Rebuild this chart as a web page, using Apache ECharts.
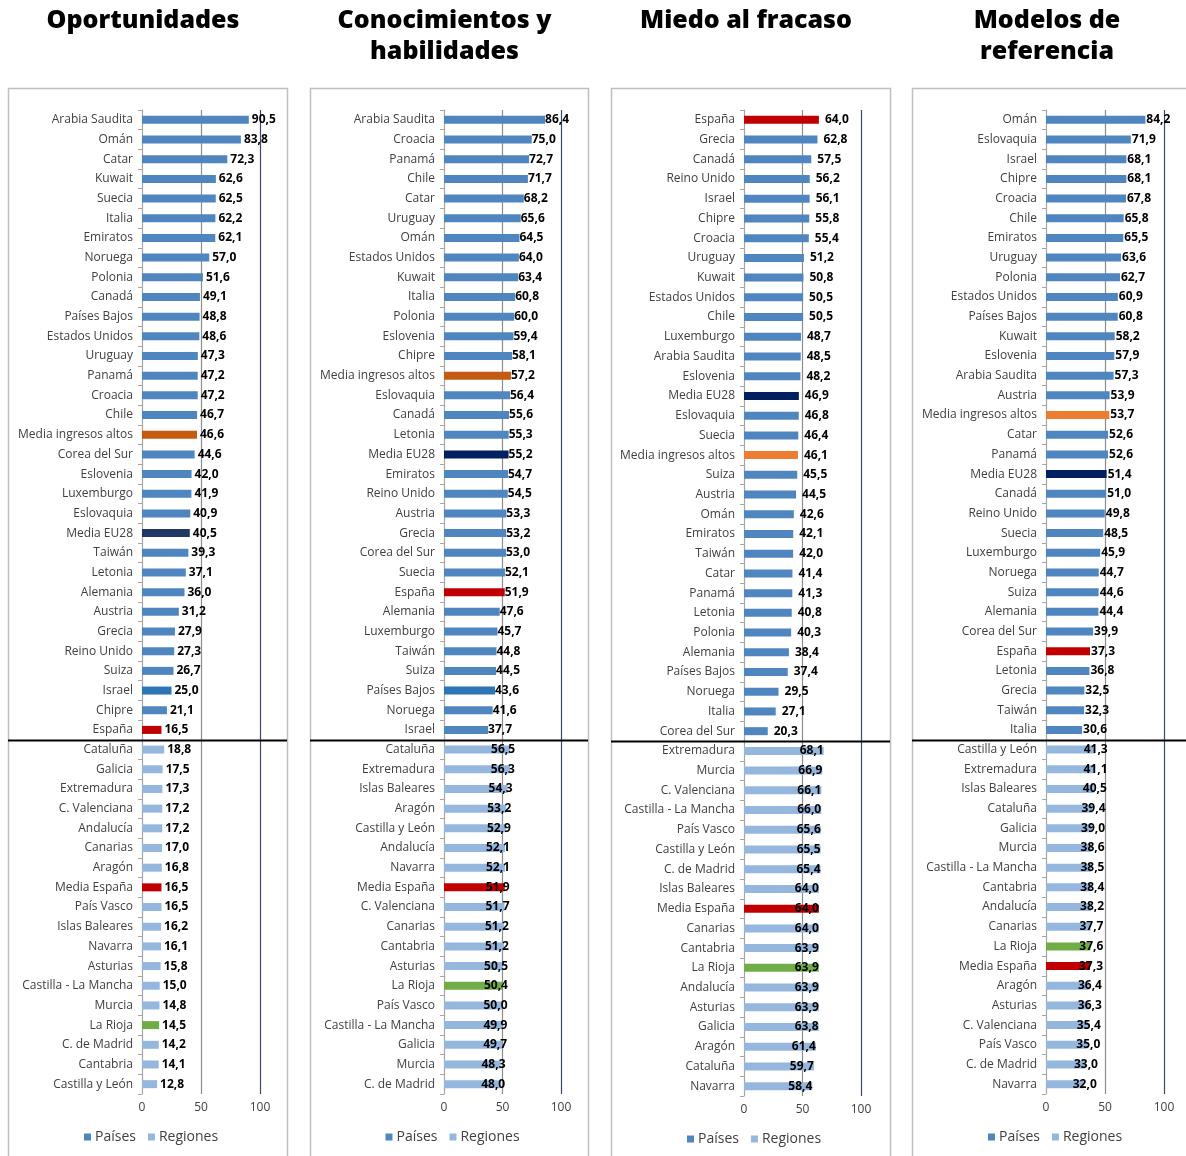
<!DOCTYPE html>
<html><head><meta charset="utf-8">
<script src="https://cdn.jsdelivr.net/npm/echarts/dist/echarts.min.js"></script>
<style>html,body{margin:0;padding:0;background:#fff}#c{width:1186px;height:1156px}</style>
</head><body><div id="c"></div>
<script>
// ---------- DATA ----------
const opCountries = ['Arabia Saudita','Omán','Catar','Kuwait','Suecia','Italia','Emiratos','Noruega','Polonia','Canadá','Países Bajos','Estados Unidos','Uruguay','Panamá','Croacia','Chile','Media ingresos altos','Corea del Sur','Eslovenia','Luxemburgo','Eslovaquia','Media EU28','Taiwán','Letonia','Alemania','Austria','Grecia','Reino Unido','Suiza','Israel','Chipre','España'];
const opCountryValues = [90.5,83.8,72.3,62.6,62.5,62.2,62.1,57.0,51.6,49.1,48.8,48.6,47.3,47.2,47.2,46.7,46.6,44.6,42.0,41.9,40.9,40.5,39.3,37.1,36.0,31.2,27.9,27.3,26.7,25.0,21.1,16.5];
const opRegions = ['Cataluña','Galicia','Extremadura','C. Valenciana','Andalucía','Canarias','Aragón','Media España','País Vasco','Islas Baleares','Navarra','Asturias','Castilla - La Mancha','Murcia','La Rioja','C. de Madrid','Cantabria','Castilla y León'];
const opRegionValues = [18.8,17.5,17.3,17.2,17.2,17.0,16.8,16.5,16.5,16.2,16.1,15.8,15.0,14.8,14.5,14.2,14.1,12.8];

const chCountries = ['Arabia Saudita','Croacia','Panamá','Chile','Catar','Uruguay','Omán','Estados Unidos','Kuwait','Italia','Polonia','Eslovenia','Chipre','Media ingresos altos','Eslovaquia','Canadá','Letonia','Media EU28','Emiratos','Reino Unido','Austria','Grecia','Corea del Sur','Suecia','España','Alemania','Luxemburgo','Taiwán','Suiza','Países Bajos','Noruega','Israel'];
const chCountryValues = [86.4,75.0,72.7,71.7,68.2,65.6,64.5,64.0,63.4,60.8,60.0,59.4,58.1,57.2,56.4,55.6,55.3,55.2,54.7,54.5,53.3,53.2,53.0,52.1,51.9,47.6,45.7,44.8,44.5,43.6,41.6,37.7];
const chRegions = ['Cataluña','Extremadura','Islas Baleares','Aragón','Castilla y León','Andalucía','Navarra','Media España','C. Valenciana','Canarias','Cantabria','Asturias','La Rioja','País Vasco','Castilla - La Mancha','Galicia','Murcia','C. de Madrid'];
const chRegionValues = [56.5,56.3,54.3,53.2,52.9,52.1,52.1,51.9,51.7,51.2,51.2,50.5,50.4,50.0,49.9,49.7,48.3,48.0];

const mfCountries = ['España','Grecia','Canadá','Reino Unido','Israel','Chipre','Croacia','Uruguay','Kuwait','Estados Unidos','Chile','Luxemburgo','Arabia Saudita','Eslovenia','Media EU28','Eslovaquia','Suecia','Media ingresos altos','Suiza','Austria','Omán','Emiratos','Taiwán','Catar','Panamá','Letonia','Polonia','Alemania','Países Bajos','Noruega','Italia','Corea del Sur'];
const mfCountryValues = [64.0,62.8,57.5,56.2,56.1,55.8,55.4,51.2,50.8,50.5,50.5,48.7,48.5,48.2,46.9,46.8,46.4,46.1,45.5,44.5,42.6,42.1,42.0,41.4,41.3,40.8,40.3,38.4,37.4,29.5,27.1,20.3];
const mfRegions = ['Extremadura','Murcia','C. Valenciana','Castilla - La Mancha','País Vasco','Castilla y León','C. de Madrid','Islas Baleares','Media España','Canarias','Cantabria','La Rioja','Andalucía','Asturias','Galicia','Aragón','Cataluña','Navarra'];
const mfRegionValues = [68.1,66.9,66.1,66.0,65.6,65.5,65.4,64.0,64.0,64.0,63.9,63.9,63.9,63.9,63.8,61.4,59.7,58.4];

const mrCountries = ['Omán','Eslovaquia','Israel','Chipre','Croacia','Chile','Emiratos','Uruguay','Polonia','Estados Unidos','Países Bajos','Kuwait','Eslovenia','Arabia Saudita','Austria','Media ingresos altos','Catar','Panamá','Media EU28','Canadá','Reino Unido','Suecia','Luxemburgo','Noruega','Suiza','Alemania','Corea del Sur','España','Letonia','Grecia','Taiwán','Italia'];
const mrCountryValues = [84.2,71.9,68.1,68.1,67.8,65.8,65.5,63.6,62.7,60.9,60.8,58.2,57.9,57.3,53.9,53.7,52.6,52.6,51.4,51.0,49.8,48.5,45.9,44.7,44.6,44.4,39.9,37.3,36.8,32.5,32.3,30.6];
const mrRegions = ['Castilla y León','Extremadura','Islas Baleares','Cataluña','Galicia','Murcia','Castilla - La Mancha','Cantabria','Andalucía','Canarias','La Rioja','Media España','Aragón','Asturias','C. Valenciana','País Vasco','C. de Madrid','Navarra'];
const mrRegionValues = [41.3,41.1,40.5,39.4,39.0,38.6,38.5,38.4,38.2,37.7,37.6,37.3,36.4,36.3,35.4,35.0,33.0,32.0];

const titles = ['Oportunidades','Conocimientos y\nhabilidades','Miedo al fracaso','Modelos de\nreferencia'];
const xTicks = [0, 50, 100];
const legendNames = ['Países','Regiones'];

// ---------- STYLE ----------
const FONT = 'Open Sans';
const C_COUNTRY = '#4f86bf', C_REGION = '#95b7de';
const RED = '#c00000', GREEN = '#70ad47', NAVY = '#002060';
const panels = [
  {countries:opCountries, cv:opCountryValues, regions:opRegions, rv:opRegionValues,
   box:[8,287], left:142, width:118, top:110, height:984, legendTop:1125,
   hl:{'Media ingresos altos':'#c55a11','Media EU28':'#1f3864','España':RED,'Israel':'#2e75b6','Media España':RED,'La Rioja':GREEN},
   cLab:{position:'right',distance:3,offset:[0,0]}, rLab:{position:'right',distance:3,offset:[0,0]}},
  {countries:chCountries, cv:chCountryValues, regions:chRegions, rv:chRegionValues,
   box:[310,588], left:444, width:117, top:110, height:984, legendTop:1125,
   hl:{'Media ingresos altos':'#c55a11','Media EU28':NAVY,'España':RED,'Países Bajos':'#2e75b6','Media España':RED,'La Rioja':GREEN},
   cLab:{position:'right',distance:0,offset:[0,0]}, rLab:{position:'insideRight',distance:0,offset:[5,0]}},
  {countries:mfCountries, cv:mfCountryValues, regions:mfRegions, rv:mfRegionValues,
   box:[611,890], left:744, width:117, top:110, height:986, legendTop:1127,
   hl:{'España':RED,'Media EU28':NAVY,'Media ingresos altos':'#ed7d31','Media España':RED,'La Rioja':GREEN},
   cLab:{position:'right',distance:6,offset:[0,0]}, rLab:{position:'insideRight',distance:0,offset:[0,0]}},
  {countries:mrCountries, cv:mrCountryValues, regions:mrRegions, rv:mrRegionValues,
   box:[912,1191], left:1046, width:118, top:110, height:984, legendTop:1125,
   hl:{'Media ingresos altos':'#ed7d31','Media EU28':NAVY,'España':RED,'Media España':RED,'La Rioja':GREEN},
   cLab:{position:'right',distance:1,offset:[0,0]}, rLab:{position:'insideRight',distance:0,offset:[13,0]}}
];

const fmt = v => v.toFixed(1).replace('.', ',');
const chart = echarts.init(document.getElementById('c'), null, {renderer:'canvas'});
const option = {
  animation:false, backgroundColor:'#fff',
  textStyle:{fontFamily:FONT},
  title:[], grid:[], xAxis:[], yAxis:[], series:[], legend:[]
};

panels.forEach((p, i) => {
  const cats = p.countries.concat(p.regions);
  const nC = p.countries.length;
  const cx = (p.box[0] + p.box[1]) / 2 + 0.5;
  option.title.push({text:titles[i], left:cx - 10, top:0, textAlign:'center',
    textStyle:{fontFamily:FONT, fontSize:25, fontWeight:800, color:'#000', lineHeight:31}});
  option.grid.push({left:p.left, top:p.top, width:p.width, height:p.height});
  option.yAxis.push({type:'category', gridIndex:i, data:cats, inverse:true,
    axisLine:{lineStyle:{color:'#a6a6a6', width:1}},
    axisTick:{show:true, length:4, lineStyle:{color:'#a6a6a6'}},
    axisLabel:{fontFamily:FONT, fontSize:12, color:'#404040', margin:9}});
  option.xAxis.push({type:'value', gridIndex:i, min:xTicks[0], max:xTicks[xTicks.length-1], interval:xTicks[1]-xTicks[0],
    axisLine:{show:false}, axisTick:{show:false},
    splitLine:{show:true, lineStyle:{color:['#a6a6a6','#8c8c8c','#3c4a66'], width:1.2}},
    axisLabel:{fontFamily:FONT, fontSize:12, color:'#404040', margin:8}});
  const lab = (l) => ({show:true, position:l.position, distance:l.distance, offset:l.offset,
    formatter: q => fmt(q.value), fontFamily:FONT, fontSize:12, fontWeight:'bold', color:'#000'});
  const cData = cats.map((n, k) => k < nC
    ? (p.hl[n] ? {value:p.cv[k], itemStyle:{color:p.hl[n]}} : p.cv[k]) : '-');
  const rData = cats.map((n, k) => k >= nC
    ? (p.hl[n] ? {value:p.rv[k-nC], itemStyle:{color:p.hl[n]}} : p.rv[k-nC]) : '-');
  option.series.push({type:'bar', name:legendNames[0], xAxisIndex:i, yAxisIndex:i, barWidth:8, barGap:'-100%',
    itemStyle:{color:C_COUNTRY}, label:lab(p.cLab), data:cData});
  option.series.push({type:'bar', name:legendNames[1], xAxisIndex:i, yAxisIndex:i, barWidth:8, barGap:'-100%',
    itemStyle:{color:C_REGION}, label:lab(p.rLab), data:rData});
  option.legend.push({data:legendNames, left:cx - 69, top:p.legendTop, icon:'rect', itemWidth:7, itemHeight:7,
    itemGap:12, selectedMode:false, textStyle:{fontFamily:FONT, fontSize:14, color:'#404040', padding:[0,0,0,-1]}});
});
chart.setOption(option);

// panel boxes + separator between countries and regions
const graphics = [];
panels.forEach((p, i) => {
  const nC = p.countries.length;
  const y1 = chart.convertToPixel({yAxisIndex:i}, nC - 1);
  const y2 = chart.convertToPixel({yAxisIndex:i}, nC);
  const ySep = Math.round((y1 + y2) / 2) + 0.5;
  graphics.push({type:'rect', silent:true, z:-10, shape:{x:p.box[0]+0.5, y:88.5, width:p.box[1]-p.box[0], height:1100},
    style:{fill:'none', stroke:'#bfbfbf', lineWidth:1.5}});
  graphics.push({type:'line', silent:true, z:100, shape:{x1:p.box[0], y1:ySep, x2:p.box[1], y2:ySep},
    style:{stroke:'#000', lineWidth:2}});
});
chart.setOption({graphic:graphics});
</script>
</body></html>
